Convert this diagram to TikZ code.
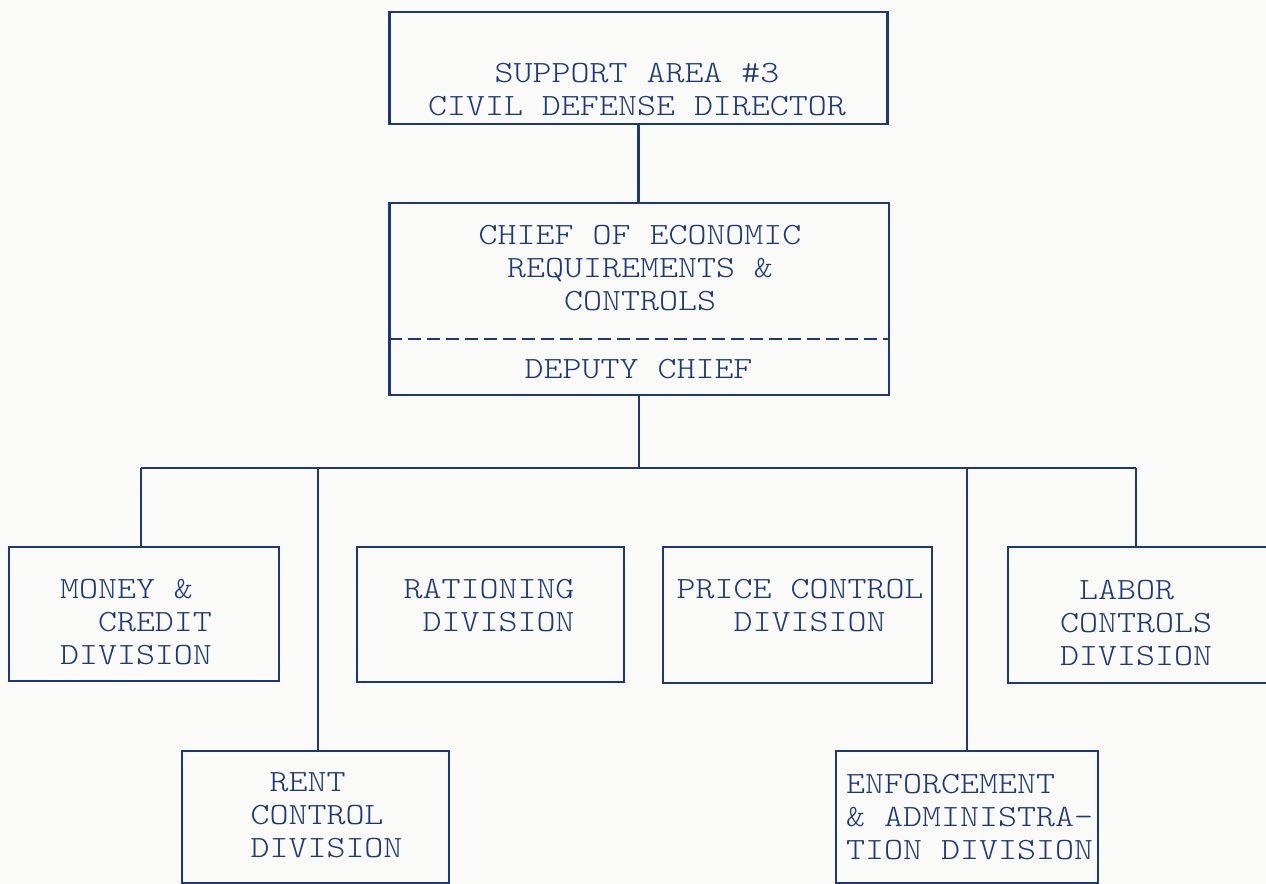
\documentclass[tikz,border=0pt]{standalone}
\usepackage{fontspec}
\usetikzlibrary{positioning,calc}
\newfontfamily\typewriter{lmmonolt10-regular.otf}[FakeStretch=1.17]
\definecolor{ink}{RGB}{28,56,122}
\definecolor{paper}{RGB}{250,250,249}

\begin{document}
\begin{tikzpicture}
                    [box/.style={draw=ink,line width=1.3pt,minimum width=5.36cm,minimum height=2.72cm,inner sep=0pt},
                     txt/.style={text=ink,align=left,inner sep=0pt,font=\typewriter\fontsize{17.6}{18.8}\selectfont},
                     link/.style={draw=ink,line width=1.3pt}]

                \fill[paper] (0,0) rectangle (25.32,-17.68);
                \useasboundingbox (0,0) rectangle (25.32,-17.68);

                \node[box,minimum width=9.96cm,minimum height=2.24cm] (dir) at (12.77,-1.36) {};
                \node[txt,align=center] (dirtext) at (12.74,-1.80) {SUPPORT AREA \#3\\CIVIL DEFENSE DIRECTOR};

                \node[box,draw=none,minimum width=9.94cm,minimum height=2.68cm] (chief) at (12.78,-5.42) {};
                \node[box,draw=none,minimum width=9.94cm,minimum height=1.12cm] (deputy) at (12.78,-7.32) {};
                \draw[link] (chief.north west) rectangle (deputy.south east);
                \draw[link,dash pattern=on 0.26cm off 0.12cm] (chief.south west) -- (chief.south east);
                \node[txt,align=center] (chieftext) at (12.80,-5.37) {CHIEF OF ECONOMIC\\REQUIREMENTS \&\\CONTROLS};
                \node[txt] (deputytext) at (12.77,-7.38) {DEPUTY CHIEF};

                \node[box,minimum width=5.40cm,minimum height=2.68cm] (money) at (2.88,-12.28) {};
                \node[txt] (moneytext) at (2.72,-12.44) {MONEY \&\\\phantom{XX}CREDIT\\DIVISION};

                \node[box,minimum width=5.34cm,minimum height=2.70cm] (ration) at (9.81,-12.29) {};
                \node[txt] (rationtext) at (9.78,-12.11) {RATIONING\\\phantom{X}DIVISION};

                \node[box,minimum width=5.38cm] (price) at (15.95,-12.30) {};
                \node[txt] (pricetext) at (16.00,-12.11) {PRICE CONTROL\\\phantom{XXX}DIVISION};

                \node[box] (labor) at (22.84,-12.30) {};
                \node[txt] (labortext) at (22.72,-12.46) {\phantom{X}LABOR\\CONTROLS\\DIVISION};

                \node[box,minimum width=5.34cm,minimum height=2.64cm] (rent) at (6.31,-16.34) {};
                \node[txt] (renttext) at (6.53,-16.31) {\phantom{X}RENT\\CONTROL\\DIVISION};

                \node[box,minimum width=5.24cm,minimum height=2.64cm] (enforce) at (19.34,-16.34) {};
                \node[txt] (enforcetext) at (19.39,-16.34) {ENFORCEMENT\\\& ADMINISTRA-\\TION DIVISION};

                \coordinate (busL) at (2.82,-9.36);
                \coordinate (busR) at (22.72,-9.36);

                \draw[link] (dir.south) -- (dir.south |- chief.north);
                \draw[link] (deputy.south) -- (deputy.south |- busL);
                \draw[link] (busL) -- (busR);
                \draw[link] (busL) -- (busL |- money.north);
                \draw[link] (6.36,0 |- busL) -- (6.36,0 |- rent.north);
                \draw[link] (enforce.north |- busL) -- (enforce.north);
                \draw[link] (busR) -- (busR |- labor.north);

\end{tikzpicture}
\end{document}
